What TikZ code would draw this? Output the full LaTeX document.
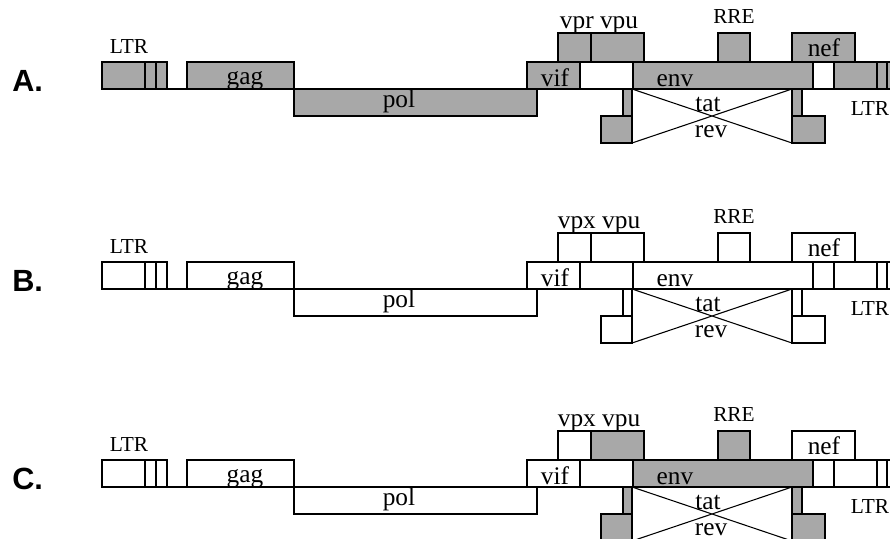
\documentclass[tikz,border=0pt]{standalone}
\usepackage{fontspec}
\setmainfont{Liberation Serif}
\newfontfamily\lblfont{Liberation Sans}
\definecolor{stip}{RGB}{168,168,168}
\tikzset{
  lc/.style={font=\fontsize{19}{21}\selectfont, anchor=base, inner sep=0pt},
  uc/.style={font=\fontsize{16}{18}\selectfont, anchor=base, inner sep=0pt},
  rowlbl/.style={font=\lblfont\bfseries\fontsize{23}{25}\selectfont, anchor=base west, inner sep=0pt},
  bx/.style={draw=black, line width=1pt}
}
\newcommand\drawgenome[5]{%
\begin{scope}[shift={(0,#1)}]
  \draw[line width=1pt] (102,89) -- (900,89);
  % 5' LTR
  \draw[bx, fill=#2] (102,62) rectangle (167,89);
  \draw[line width=1pt] (145,62) -- (145,89) (156,62) -- (156,89);
  % gag, pol
  \draw[bx, fill=#2] (187,62) rectangle (294,89);
  \draw[bx, fill=#2] (294,89) rectangle (537,116);
  % vif and gap
  \draw[bx, fill=#2] (527,62) rectangle (580,89);
  \draw[bx, fill=white] (580,62) rectangle (633,89);
  % vpr / vpx, vpu
  \draw[bx, fill=#2] (558,33) rectangle (591,62);
  \draw[bx, fill=#3] (591,33) rectangle (644,62);
  % env, RRE, nef
  \draw[bx, fill=#3] (633,62) rectangle (813,89);
  \draw[bx, fill=#3] (718,33) rectangle (750,62);
  \draw[bx, fill=#2] (792,33) rectangle (855,62);
  \draw[bx, fill=white] (813,62) rectangle (834,89);
  % 3' LTR
  \draw[bx, fill=#2] (834,62) rectangle (900,89);
  \draw[line width=1pt] (877,62) -- (877,89) (887,62) -- (887,89);
  % tat / rev exons
  \draw[bx, fill=#3] (623,89) rectangle (632,116);
  \draw[bx, fill=#3] (601,116) rectangle (632,143);
  \draw[bx, fill=#3] (792,89) rectangle (802,116);
  \draw[bx, fill=#3] (792,116) rectangle (825,143);
  \draw[line width=0.8pt] (632,89) -- (792,143) (632,143) -- (792,89);
  % labels
  \node[rowlbl] (row#4) at (12,91) {#4.};
  \node[uc] (ltrl#4) at (129,53) {LTR};
  \node[lc] (gag#4) at (245,84) {gag};
  \node[lc] (pol#4) at (399,107) {pol};
  \node[lc] (vif#4) at (555,86) {vif};
  \node[lc] (env#4) at (675,86) {env};
  \node[lc] (tat#4) at (708,111) {tat};
  \node[lc] (rev#4) at (711,137) {rev};
  \node[lc] (vp#4) at (599,28) {#5};
  \node[uc] (rre#4) at (734,23) {RRE};
  \node[lc] (nef#4) at (824,56) {nef};
  \node[uc] (ltrr#4) at (870,115) {LTR};
\end{scope}}
\begin{document}
\begin{tikzpicture}[x=0.75pt,y=-0.75pt]
  \useasboundingbox (0,0) rectangle (890,539);
  \clip (0,0) rectangle (890,539);
  \drawgenome{0}{stip}{stip}{A}{vpr vpu}
  \drawgenome{200}{white}{white}{B}{vpx vpu}
  \drawgenome{398}{white}{stip}{C}{vpx vpu}
\end{tikzpicture}
\end{document}
